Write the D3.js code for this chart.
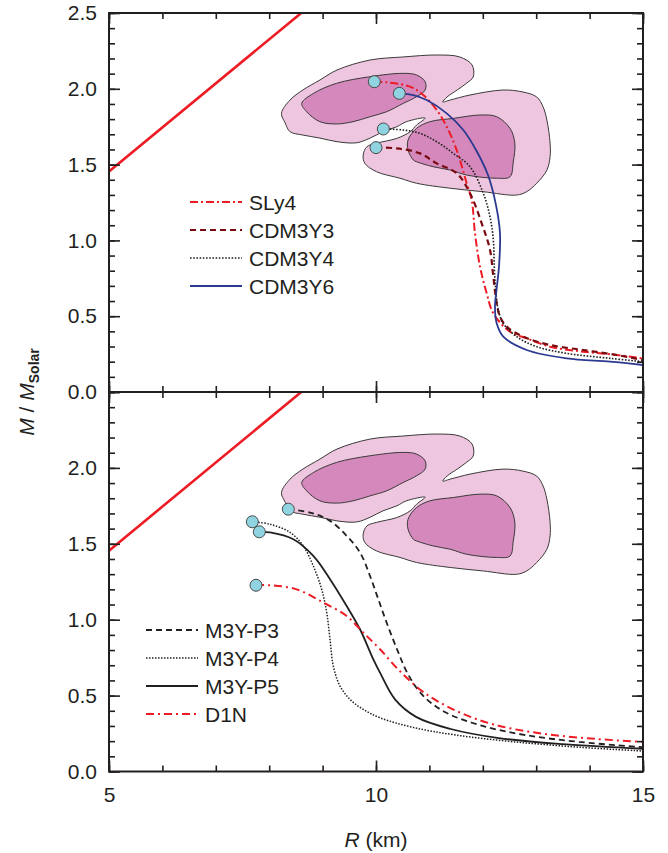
<!DOCTYPE html>
<html>
<head>
<meta charset="utf-8">
<script src="https://cdn.jsdelivr.net/npm/d3@7"></script>
<style>
  html, body { margin: 0; padding: 0; background: #fff; }
  svg { display: block; }
  text { font-family: "Liberation Sans", Arial, Helvetica, sans-serif; fill: #231f20; }
</style>
</head>
<body>
<svg id="chart" width="668" height="853"></svg>
<script>
// ---------------- DATA ----------------
const xDomain = [5, 15];
const yDomain = [0, 2.5];
const xMajorTicks = [5, 10, 15];
const xMinorTicks = [5, 6, 7, 8, 9, 10, 11, 12, 13, 14, 15];
const yMajorTicks = [0, 0.5, 1.0, 1.5, 2.0, 2.5];
const yTopLabels = [0, 0.5, 1.0, 1.5, 2.0, 2.5];
const yBottomLabels = [0, 0.5, 1.0, 1.5, 2.0];

// causality-type straight line (R, M)
const limitLine = [[5, 1.455], [8.6, 2.5]];

// observational contours (R, M)
const outerContour = [[8.23,1.838],[8.39,1.926],[8.63,1.992],[8.95,2.058],[9.27,2.124],[9.89,2.19],[10.51,2.21],[11.14,2.223],[11.57,2.21],[11.80,2.157],[11.82,2.078],[11.70,2.038],[11.52,1.992],[11.33,1.946],[11.25,1.913],[11.39,1.926],[11.76,1.959],[12.38,1.992],[12.75,1.979],[13.01,1.946],[13.13,1.88],[13.20,1.794],[13.26,1.642],[13.26,1.552],[13.20,1.464],[13.01,1.377],[12.82,1.321],[12.63,1.299],[12.01,1.321],[11.39,1.344],[10.76,1.377],[10.45,1.41],[10.01,1.453],[9.79,1.509],[9.76,1.563],[9.83,1.618],[10.01,1.641],[10.39,1.673],[10.64,1.717],[10.76,1.761],[10.92,1.807],[10.57,1.783],[10.39,1.75],[10.13,1.717],[9.89,1.675],[9.64,1.644],[9.27,1.651],[8.95,1.675],[8.63,1.695],[8.39,1.717],[8.30,1.774]];
const innerLeft = [[8.61,1.904],[8.83,1.970],[9.26,2.036],[9.89,2.080],[10.51,2.102],[10.76,2.091],[10.92,2.047],[10.92,1.992],[10.76,1.948],[10.51,1.904],[10.20,1.849],[9.89,1.816],[9.57,1.783],[9.26,1.768],[8.95,1.783],[8.70,1.849]];
const innerRight = [[10.60,1.662],[10.76,1.739],[11.01,1.783],[11.45,1.805],[11.95,1.827],[12.26,1.816],[12.51,1.739],[12.60,1.641],[12.57,1.517],[12.51,1.420],[12.26,1.410],[11.70,1.431],[11.39,1.464],[11.07,1.486],[10.76,1.519],[10.70,1.530],[10.60,1.596]];

// top panel series (R, M)
const sly4 = [[9.968,2.047],[10.2,2.043],[10.637,2.014],[10.886,1.959],[11.137,1.860],[11.324,1.750],[11.511,1.596],[11.698,1.377],[11.792,1.266],[11.854,1.047],[11.948,0.827],[12.073,0.651],[12.197,0.519],[12.509,0.398],[12.822,0.354],[13.258,0.299],[13.882,0.266],[14.507,0.244],[15.0,0.222]];
const cdm3y3 = [[10.0,1.612],[10.388,1.607],[10.824,1.574],[11.137,1.508],[11.511,1.443],[11.76,1.311],[11.979,1.113],[12.135,0.937],[12.197,0.761],[12.26,0.585],[12.322,0.497],[12.448,0.431],[12.758,0.365],[13.258,0.31],[13.882,0.277],[14.507,0.244],[15.0,0.211]];
const cdm3y4 = [[10.137,1.735],[10.511,1.728],[10.824,1.706],[11.137,1.651],[11.448,1.574],[11.76,1.486],[12.009,1.311],[12.135,1.156],[12.197,1.003],[12.215,0.827],[12.242,0.673],[12.29,0.541],[12.384,0.453],[12.635,0.365],[13.009,0.299],[13.571,0.255],[14.382,0.222],[15.0,0.2]];
const cdm3y6 = [[10.436,1.970],[10.698,1.959],[10.949,1.926],[11.324,1.838],[11.635,1.728],[11.873,1.596],[12.097,1.431],[12.247,1.233],[12.322,1.047],[12.303,0.827],[12.257,0.673],[12.228,0.563],[12.26,0.453],[12.384,0.365],[12.822,0.277],[13.571,0.222],[14.382,0.2],[15.0,0.178]];

// bottom panel series (R, M)
const m3yp3 = [[8.358,1.728],[8.764,1.706],[9.139,1.651],[9.451,1.552],[9.7,1.443],[9.888,1.288],[10.043,1.135],[10.2,0.98],[10.40,0.80],[10.60,0.64],[10.88,0.50],[11.3,0.39],[12.0,0.30],[12.8,0.24],[13.8,0.195],[15.0,0.16]];
const m3yp4 = [[7.684,1.645],[8.015,1.629],[8.39,1.575],[8.638,1.486],[8.826,1.354],[8.983,1.2],[9.077,1.047],[9.139,0.871],[9.2,0.695],[9.326,0.563],[9.513,0.475],[9.762,0.409],[10.075,0.354],[10.7,0.29],[11.5,0.24],[12.6,0.195],[13.8,0.16],[15.0,0.135]];
const m3yp5 = [[7.815,1.579],[8.015,1.575],[8.452,1.53],[8.826,1.42],[9.139,1.267],[9.451,1.09],[9.7,0.937],[9.95,0.739],[10.075,0.651],[10.356,0.475],[10.75,0.36],[11.4,0.28],[12.3,0.22],[13.5,0.18],[15.0,0.15]];
const d1n = [[7.753,1.227],[8.015,1.227],[8.515,1.2],[9.013,1.113],[9.451,1.024],[9.762,0.915],[10.075,0.805],[10.45,0.66],[10.9,0.52],[11.5,0.40],[12.2,0.31],[13.1,0.25],[14.1,0.215],[15.0,0.195]];

const topSeries = [
  {name: "SLy4", data: sly4, color: "#ed1c24", width: 2, dash: "8,3,2,3"},
  {name: "CDM3Y3", data: cdm3y3, color: "#7a0a10", width: 2.2, dash: "6,4"},
  {name: "CDM3Y4", data: cdm3y4, color: "#231f20", width: 1.6, dash: "1.6,1.6"},
  {name: "CDM3Y6", data: cdm3y6, color: "#2b3990", width: 1.8, dash: null}
];
const bottomSeries = [
  {name: "M3Y-P3", data: m3yp3, color: "#231f20", width: 1.8, dash: "6,4"},
  {name: "M3Y-P4", data: m3yp4, color: "#231f20", width: 1.5, dash: "1.5,1.5"},
  {name: "M3Y-P5", data: m3yp5, color: "#231f20", width: 1.8, dash: null},
  {name: "D1N", data: d1n, color: "#ed1c24", width: 2, dash: "8,4,2,4"}
];

// ---------------- LAYOUT ----------------
const svg = d3.select("#chart");
const L = 109, R = 643;
const FS = 21;
const panels = [
  {id: "top", y0: 13, y1: 392, series: topSeries, labels: yTopLabels, legendX: 190, legendY: 202},
  {id: "bot", y0: 392, y1: 771.5, series: bottomSeries, labels: yBottomLabels, legendX: 146, legendY: 630}
];
const x = d3.scaleLinear().domain(xDomain).range([L, R]);

panels.forEach(p => {
  const y = d3.scaleLinear().domain(yDomain).range([p.y1, p.y0]);
  const g = svg.append("g");
  const clipId = "clip-" + p.id;
  svg.append("clipPath").attr("id", clipId)
    .append("rect").attr("x", L).attr("y", p.y0).attr("width", R - L).attr("height", p.y1 - p.y0);
  const plot = g.append("g").attr("clip-path", `url(#${clipId})`);
  const line = d3.line().x(d => x(d[0])).y(d => y(d[1])).curve(d3.curveCatmullRom.alpha(0.5));
  const poly = d3.line().x(d => x(d[0])).y(d => y(d[1])).curve(d3.curveCatmullRomClosed.alpha(0.5));

  // contours
  plot.append("path").attr("d", poly(outerContour))
    .attr("fill", "#efc6df").attr("stroke", "#3a3a3a").attr("stroke-width", 1);
  [innerLeft, innerRight].forEach(c => {
    plot.append("path").attr("d", poly(c))
      .attr("fill", "#d488bc").attr("stroke", "#3a3a3a").attr("stroke-width", 1);
  });

  // limit line
  plot.append("path").attr("d", d3.line().x(d => x(d[0])).y(d => y(d[1]))(limitLine))
    .attr("fill", "none").attr("stroke", "#ed1c24").attr("stroke-width", 2.6);

  // series
  p.series.forEach(s => {
    plot.append("path").attr("d", line(s.data))
      .attr("fill", "none").attr("stroke", s.color).attr("stroke-width", s.width)
      .attr("stroke-dasharray", s.dash);
  });
  // end-point markers
  p.series.forEach(s => {
    plot.append("circle").attr("cx", x(s.data[0][0])).attr("cy", y(s.data[0][1])).attr("r", 6)
      .attr("fill", "#8fd4e0").attr("stroke", "#4a4a4a").attr("stroke-width", 1);
  });

  // axes
  const yMinor = d3.range(0, 2.5001, 0.1);
  const axisStyle = sel => { sel.select(".domain").remove(); sel.selectAll("line").attr("stroke", "#231f20").attr("stroke-width", 1.6); };
  g.append("g").attr("transform", `translate(${L},0)`).call(d3.axisLeft(y).tickValues(yMinor).tickSize(-6).tickFormat("")).call(axisStyle);
  g.append("g").attr("transform", `translate(${L},0)`).call(d3.axisLeft(y).tickValues(yMajorTicks).tickSize(-11).tickFormat("")).call(axisStyle);
  g.append("g").attr("transform", `translate(${R},0)`).call(d3.axisRight(y).tickValues(yMinor).tickSize(-6).tickFormat("")).call(axisStyle);
  g.append("g").attr("transform", `translate(${R},0)`).call(d3.axisRight(y).tickValues(yMajorTicks).tickSize(-11).tickFormat("")).call(axisStyle);
  g.append("g").attr("transform", `translate(0,${p.y1})`).call(d3.axisBottom(x).tickValues(xMinorTicks).tickSize(-6).tickFormat("")).call(axisStyle);
  g.append("g").attr("transform", `translate(0,${p.y1})`).call(d3.axisBottom(x).tickValues(xMajorTicks).tickSize(-11).tickFormat("")).call(axisStyle);
  g.append("g").attr("transform", `translate(0,${p.y0})`).call(d3.axisTop(x).tickValues(xMinorTicks).tickSize(-6).tickFormat("")).call(axisStyle);
  g.append("g").attr("transform", `translate(0,${p.y0})`).call(d3.axisTop(x).tickValues(xMajorTicks).tickSize(-11).tickFormat("")).call(axisStyle);

  // y labels
  const lab = g.append("g").attr("transform", `translate(${L},0)`)
    .call(d3.axisLeft(y).tickValues(p.labels).tickSize(0).tickPadding(12).tickFormat(d3.format(".1f")));
  lab.select(".domain").remove();
  lab.selectAll("text").attr("font-size", FS).attr("fill", "#231f20")
    .style("font-family", '"Liberation Sans", Arial, sans-serif');

  // frame
  g.append("rect").attr("x", L).attr("y", p.y0).attr("width", R - L).attr("height", p.y1 - p.y0)
    .attr("fill", "none").attr("stroke", "#231f20").attr("stroke-width", 2);

  // legend
  const lg = g.append("g");
  p.series.forEach((s, i) => {
    const ly = p.legendY + i * 28;
    lg.append("line").attr("x1", p.legendX).attr("x2", p.legendX + 52).attr("y1", ly).attr("y2", ly)
      .attr("stroke", s.color).attr("stroke-width", s.width).attr("stroke-dasharray", s.dash);
    lg.append("text").attr("x", p.legendX + 59).attr("y", ly).attr("dy", "0.36em")
      .attr("font-size", FS).text(s.name);
  });
});

// x tick labels
const xl = svg.append("g").attr("transform", `translate(0,771.5)`)
  .call(d3.axisBottom(x).tickValues(xMajorTicks).tickSize(0).tickPadding(16).tickFormat(d3.format("d")));
xl.select(".domain").remove();
xl.selectAll("text").attr("font-size", FS).attr("fill", "#231f20")
  .style("font-family", '"Liberation Sans", Arial, sans-serif');

// axis titles
const xt = svg.append("text").attr("x", 376).attr("y", 847).attr("text-anchor", "middle").attr("font-size", 21);
xt.append("tspan").attr("font-style", "italic").text("R");
xt.append("tspan").text(" (km)");

const yt = svg.append("text").attr("transform", "translate(34,392) rotate(-90)").attr("text-anchor", "middle").attr("font-size", 21);
yt.append("tspan").attr("font-style", "italic").text("M");
yt.append("tspan").text(" / ");
yt.append("tspan").attr("font-style", "italic").text("M");
yt.append("tspan").attr("font-size", 14).attr("font-weight", "bold").attr("dy", 5).text("Solar");
</script>
</body>
</html>
